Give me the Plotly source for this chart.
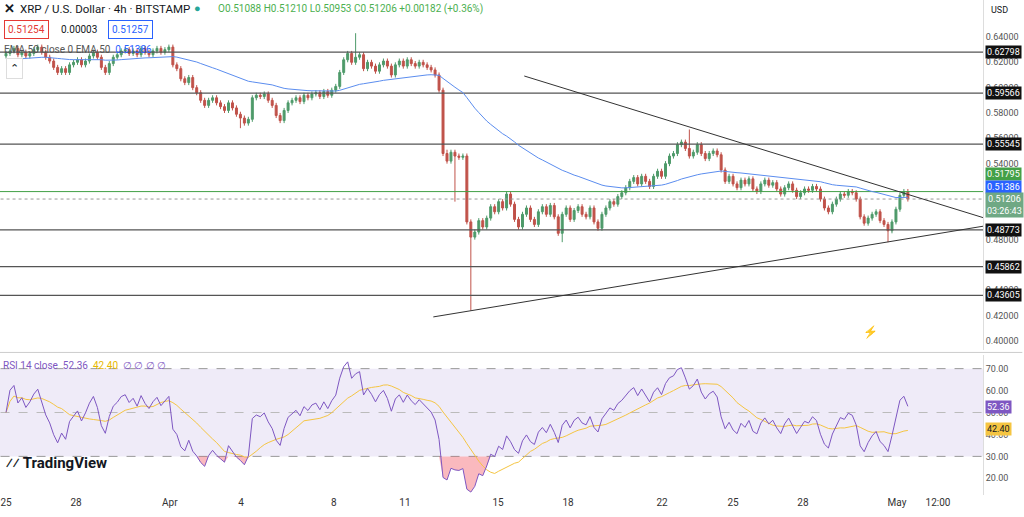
import numpy as np
import plotly.graph_objects as go

# ---- data (4h closes, 6 per day starting Mar 25) ----
closes = [
 0.627,0.629,0.631,0.626,0.628,0.625, 0.627,0.630,0.632,0.628,0.624,0.621,
 0.616,0.612,0.615,0.612,0.618,0.620, 0.622,0.618,0.621,0.625,0.628,0.624,
 0.616,0.612,0.619,0.624,0.626,0.629, 0.630,0.627,0.629,0.626,0.631,0.628,
 0.626,0.629,0.631,0.628,0.630,0.632, 0.618,0.615,0.607,0.604,0.608,0.600,
 0.596,0.590,0.586,0.590,0.592,0.588, 0.585,0.582,0.588,0.584,0.579,0.576,
 0.572,0.575,0.592,0.594,0.593,0.595, 0.590,0.586,0.578,0.574,0.582,0.588,
 0.590,0.592,0.589,0.594,0.592,0.595, 0.596,0.593,0.597,0.594,0.598,0.601,
 0.612,0.622,0.627,0.620,0.624,0.626, 0.615,0.620,0.617,0.613,0.618,0.621,
 0.617,0.610,0.618,0.621,0.617,0.622, 0.619,0.617,0.620,0.618,0.616,0.614,
 0.610,0.598,0.548,0.542,0.549,0.546, 0.545,0.546,0.494,0.482,0.486,0.495,
 0.490,0.497,0.506,0.502,0.510,0.505, 0.516,0.508,0.496,0.490,0.500,0.505,
 0.496,0.492,0.502,0.506,0.500,0.507, 0.498,0.485,0.500,0.505,0.496,0.503,
 0.506,0.500,0.498,0.505,0.494,0.489, 0.500,0.505,0.510,0.508,0.514,0.517,
 0.521,0.526,0.529,0.524,0.530,0.526, 0.522,0.530,0.534,0.530,0.540,0.546,
 0.548,0.555,0.557,0.552,0.546,0.549, 0.555,0.548,0.544,0.548,0.550,0.547,
 0.535,0.526,0.530,0.524,0.521,0.527, 0.524,0.528,0.520,0.518,0.524,0.527,
 0.523,0.525,0.520,0.516,0.521,0.524, 0.519,0.514,0.517,0.520,0.519,0.522,
 0.520,0.512,0.505,0.502,0.508,0.512, 0.516,0.515,0.518,0.517,0.512,0.498,
 0.493,0.497,0.500,0.502,0.495,0.492, 0.487,0.494,0.504,0.515,0.518,0.51206,
]
first_open = 0.625
wick_pad = [0.002]  # typical wick length
special_highs = {88: 0.643, 172: 0.567, 111: 0.551, 42: 0.634}
special_lows = {117: 0.424, 140: 0.478, 222: 0.478, 113: 0.510, 59: 0.568}

levels = [0.62798, 0.59566, 0.55545, 0.48773, 0.45862, 0.43605]
level_green = 0.51795
ema_label = 0.51386
last_label = 0.51206
desc_line_x = [22.11, 41.68]; desc_line_y = [0.6092, 0.4974]
asc_line_x = [18.23, 41.68]; asc_line_y = [0.4190, 0.4906]
tick_days = [0.0, 2.99, 6.99, 10.03, 13.99, 17.02, 20.99, 23.98, 27.99, 31.02, 34.0, 38.01, 39.76]
tick_text = ["25", "28", "Apr", "4", "8", "11", "15", "18", "22", "25", "28", "May", "12:00"]
price_ticks = [0.40,0.42,0.44,0.46,0.48,0.50,0.52,0.54,0.56,0.58,0.60,0.62,0.64]
rsi_ticks = [20,30,40,50,60,70]

# ---- derive OHLC ----
n = len(closes)
c = np.array(closes)
o = np.concatenate([[first_open], c[:-1]])
h = np.maximum(o, c) + wick_pad[0]
l = np.minimum(o, c) - wick_pad[0]
for k, v in special_highs.items(): h[k] = max(h[k], v)
for k, v in special_lows.items(): l[k] = min(l[k], v)
x = np.arange(n) / 5.9

ema = np.zeros(n); a = 2/51; ema[0] = 0.622
for i in range(1, n): ema[i] = a*c[i] + (1-a)*ema[i-1]

d = np.diff(c, prepend=c[0])
up = np.where(d > 0, d, 0); dn = np.where(d < 0, -d, 0)
rsi = np.full(n, np.nan); au = up[1:8].mean(); ad = dn[1:8].mean()
for i in range(1, n):
    au = (au*13 + up[i])/14; ad = (ad*13 + dn[i])/14
    rsi[i] = 100 - 100/(1 + au/ad) if ad > 0 else 100
rsi[0] = 50
rsi_ma = np.array([np.mean(rsi[max(0, i-13):i+1]) for i in range(n)])

fig = go.Figure()
GRAY = "#555555"
for lv in levels:
    fig.add_trace(go.Scatter(x=[-1, 43], y=[lv, lv], mode="lines", line=dict(color=GRAY, width=1.2), hoverinfo="skip", xaxis="x", yaxis="y"))
fig.add_trace(go.Scatter(x=[-1, 43], y=[level_green]*2, mode="lines", line=dict(color="#43a047", width=1), xaxis="x", yaxis="y"))
fig.add_trace(go.Scatter(x=[-1, 43], y=[last_label]*2, mode="lines", line=dict(color="#999", width=1, dash="dot"), xaxis="x", yaxis="y"))
fig.add_trace(go.Scatter(x=desc_line_x, y=desc_line_y, mode="lines", line=dict(color="#333", width=1), xaxis="x", yaxis="y"))
fig.add_trace(go.Scatter(x=asc_line_x, y=asc_line_y, mode="lines", line=dict(color="#333", width=1), xaxis="x", yaxis="y"))
fig.add_trace(go.Scatter(x=x, y=ema, mode="lines", line=dict(color="#5b8def", width=1), xaxis="x", yaxis="y"))
fig.add_trace(go.Candlestick(x=x, open=o, high=h, low=l, close=c, xaxis="x", yaxis="y",
    increasing=dict(line=dict(color="#4e9a6a", width=1), fillcolor="#4e9a6a"),
    decreasing=dict(line=dict(color="#c0524a", width=1), fillcolor="#c0524a"), whiskerwidth=0))

# RSI pane
fig.add_trace(go.Scatter(x=[-1, 43], y=[70, 70], mode="lines", line=dict(color="#999", width=1, dash="dash"), xaxis="x2", yaxis="y2"))
fig.add_trace(go.Scatter(x=[-1, 43], y=[30, 30], mode="lines", line=dict(color="#999", width=1, dash="dash"), fill="tonexty", fillcolor="rgba(126,87,194,0.12)", xaxis="x2", yaxis="y2"))
fig.add_trace(go.Scatter(x=[-1, 43], y=[50, 50], mode="lines", line=dict(color="#bbb", width=1, dash="dash"), xaxis="x2", yaxis="y2"))
fig.add_trace(go.Scatter(x=x, y=np.full(n, 30.0), mode="lines", line=dict(width=0), xaxis="x2", yaxis="y2", hoverinfo="skip"))
fig.add_trace(go.Scatter(x=x, y=np.minimum(rsi, 30), mode="lines", line=dict(width=0), fill="tonexty", fillcolor="rgba(242,54,69,0.35)", xaxis="x2", yaxis="y2", hoverinfo="skip"))
fig.add_trace(go.Scatter(x=x, y=rsi_ma, mode="lines", line=dict(color="#f5c542", width=1), xaxis="x2", yaxis="y2"))
fig.add_trace(go.Scatter(x=x, y=rsi, mode="lines", line=dict(color="#7e57c2", width=1), xaxis="x2", yaxis="y2"))

xr = [-0.256, 41.68]
fig.update_layout(
    width=1024, height=517, showlegend=False, plot_bgcolor="white", paper_bgcolor="white",
    margin=dict(l=0, r=41, t=0, b=22), font=dict(family="Roboto, Arial", size=10, color="#131722"),
    xaxis=dict(domain=[0, 1], range=xr, showgrid=False, showticklabels=False, zeroline=False, rangeslider=dict(visible=False), anchor="y", automargin=False),
    xaxis2=dict(domain=[0, 1], range=xr, showgrid=False, zeroline=False, tickvals=tick_days, ticktext=tick_text, ticks="", tickfont=dict(size=10, color="#333"), anchor="y2", matches="x", automargin=False),
    yaxis=dict(domain=[0.293, 1], range=[0.3929, 0.6692], side="right", tickvals=price_ticks, tickformat=".5f", showgrid=False, zeroline=False, tickfont=dict(size=9, color="#555"), ticks="", showline=True, linecolor="#ddd", automargin=False),
    yaxis2=dict(domain=[0, 0.283], range=[12.4, 76.25], side="right", tickvals=rsi_ticks, ticktext=["20.00","30.00","40.00","50.00","60.00","70.00"], showgrid=False, zeroline=False, tickfont=dict(size=9, color="#555"), ticks="", showline=True, linecolor="#ddd", automargin=False),
)
fig.add_shape(type="line", xref="paper", yref="paper", x0=0, x1=1.04, y0=0.288, y1=0.288, line=dict(color="#ccc", width=1))

def lab(y, txt, bg, yref="y", fc="white"):
    fig.add_annotation(x=1.0, xref="paper", y=y, yref=yref, text=txt, showarrow=False, xanchor="left", xshift=2,
                       bgcolor=bg, font=dict(color=fc, size=9), borderpad=1)
for lv in levels: lab(lv, f"{lv:.5f}", "#111")
lab(0.5318, f"{level_green:.5f}", "#43a047")
lab(0.5216, f"{ema_label:.5f}", "#2962ff")
lab(0.5070, f"{last_label:.5f}<br>03:26:43", "#6fa884")
lab(52.36, "52.36", "#7e57c2", "y2")
lab(42.40, "42.40", "#f5c542", "y2", "#131722")

def ann(x, y, t, **kw):
    fig.add_annotation(x=x, y=y, xref="paper", yref="paper", xanchor="left", yanchor="middle", showarrow=False, text=t, **kw)
ann(0.002, 0.982, "<b>✕</b>", font=dict(size=13, color="#131722"))
ann(0.018, 0.982, "XRP / U.S. Dollar · 4h · BITSTAMP", font=dict(size=11.5, color="#131722"))
ann(0.195, 0.982, "<span style='color:#26a69a'>●</span>", font=dict(size=11))
ann(0.22, 0.982, "O0.51088 H0.51210 L0.50953 C0.51206 +0.00182 (+0.36%)", font=dict(size=10, color="#4caf50"))
ann(0.004, 0.94, "0.51254", font=dict(size=10, color="#e53935"), bordercolor="#e53935", borderpad=3, bgcolor="white")
ann(0.06, 0.94, "0.00003", font=dict(size=10, color="#131722"))
ann(0.11, 0.94, "0.51257", font=dict(size=10, color="#2962ff"), bordercolor="#2962ff", borderpad=3, bgcolor="white")
ann(0.002, 0.9, "EMA 50 close 0 EMA 50  <span style='color:#2962ff'>0.51386</span>", font=dict(size=10, color="#555"))
ann(0.006, 0.862, "⌃", font=dict(size=11, color="#131722"), bordercolor="#ddd", borderpad=3, bgcolor="white")
ann(0.001, 0.262, "RSI 14 close  52.36  <span style='color:#e6b800'>42.40</span>  ∅ ∅ ∅ ∅", font=dict(size=10, color="#7e57c2"))
ann(0.004, 0.065, "<b>⁄⁄ TradingView</b>", font=dict(size=15, color="#131722"))
ann(1.0, 0.98, "USD", font=dict(size=9, color="#131722"), xshift=6)
ann(0.876, 0.33, "<span style='color:#e040fb'>⚡</span>", font=dict(size=12))

fig.write_html("out.html", config={"displayModeBar": False},
               post_script="document.body.style.margin='0';document.body.style.overflow='hidden';")
